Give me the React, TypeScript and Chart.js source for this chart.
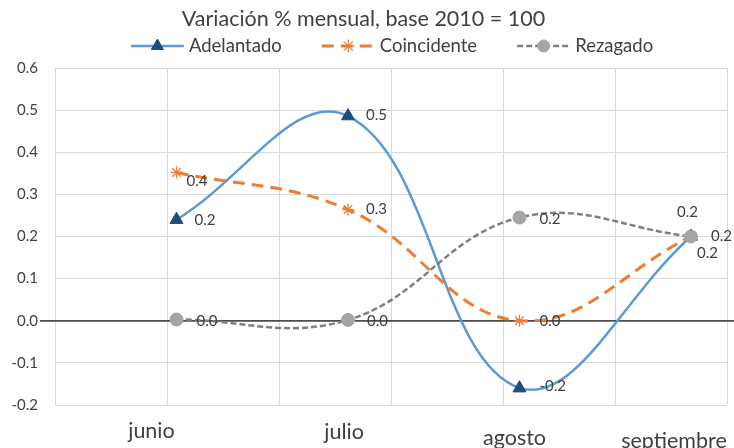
import React, { useEffect, useRef } from 'react';
import { Chart, registerables } from 'chart.js';
import { drawPoint } from 'chart.js/helpers';

Chart.register(...registerables);

// ---------- data ----------
const TITLE = 'Variación % mensual, base 2010 = 100';
const MONTHS = ['junio', 'julio', 'agosto', 'septiembre'];
const SERIES_NAMES = ['Adelantado', 'Coincidente', 'Rezagado'];
const ADELANTADO = [0.24, 0.486, -0.16, 0.2];
const COINCIDENTE = [0.352, 0.264, 0.0, 0.2];
const REZAGADO = [0.003, 0.002, 0.245, 0.2];
const Y_MIN = -0.2;
const Y_MAX = 0.6;
const Y_STEP = 0.1;

// ---------- styles ----------
const FONT = 'Lato, "Open Sans", "DejaVu Sans", sans-serif';
const TEXT = '#404040';
const GRID = '#d9d9d9';
const COLORS = {
  blue: '#5B9BD5',
  navy: '#1F4E79',
  orange: '#ED7D31',
  grayLine: '#7F7F7F',
  grayMarker: '#A5A5A5',
};
const X_MIN = -0.7085;
const X_MAX = 3.21;
const X_LABEL_NUDGE = [-0.146, -0.023, -0.029, -0.099];
const X_LABEL_LH = [16, 18, 30, 36];
// label offsets [dx, dy] per series / point
const LABEL_OFFSETS = [
  [[18, 1], [18, -1], [20, -2], [6, 17]],
  [[10, 9], [18, 0], [20, 0], [-14, -24]],
  [[20, 2], [19, 1], [20, 2], [20, 0]],
];

const zeroLinePlugin = {
  id: 'zeroLine',
  beforeDatasetsDraw(chart: any) {
    const { ctx, chartArea } = chart;
    const y0 = chart.scales.y.getPixelForValue(0);
    ctx.save();
    ctx.strokeStyle = '#4d4d4d';
    ctx.lineWidth = 1.75;
    ctx.beginPath();
    ctx.moveTo(chartArea.left - 15, y0);
    ctx.lineTo(chart.width, y0);
    ctx.stroke();
    ctx.restore();
  },
};

const dataLabelPlugin = {
  id: 'dataLabels',
  afterDatasetsDraw(chart: any) {
    const { ctx } = chart;
    ctx.save();
    ctx.font = `15px ${FONT}`;
    ctx.fillStyle = TEXT;
    ctx.textAlign = 'left';
    ctx.textBaseline = 'middle';
    chart.data.datasets.forEach((ds: any, d: number) => {
      const meta = chart.getDatasetMeta(d);
      meta.data.forEach((pt: any, i: number) => {
        const v = ds.data[i].y;
        const [dx, dy] = LABEL_OFFSETS[d][i];
        ctx.fillText(Number(v).toFixed(1), pt.x + dx, pt.y + dy);
      });
    });
    ctx.restore();
  },
};

const legendPlugin = {
  id: 'lineLegend',
  afterDraw(chart: any) {
    const { ctx, chartArea } = chart;
    ctx.save();
    ctx.font = `18.5px ${FONT}`;
    const LINE = 53;
    const GAP = 5;
    const ITEM_GAP = 40;
    const widths = SERIES_NAMES.map((n) => ctx.measureText(n).width);
    const total =
      widths.reduce((s, w) => s + LINE + GAP + w, 0) + ITEM_GAP * (widths.length - 1);
    let x = (chartArea.left + chartArea.right) / 2 + 1 - total / 2;
    const y = 46;
    chart.data.datasets.forEach((ds: any, i: number) => {
      ctx.save();
      ctx.strokeStyle = ds.borderColor;
      ctx.lineWidth = ds.borderWidth;
      ctx.setLineDash(ds.borderDash || []);
      ctx.beginPath();
      ctx.moveTo(x, y);
      ctx.lineTo(x + LINE, y);
      ctx.stroke();
      ctx.setLineDash([]);
      ctx.fillStyle = ds.pointBackgroundColor;
      ctx.strokeStyle = ds.pointBorderColor;
      ctx.lineWidth = ds.pointBorderWidth;
      drawPoint(
        ctx,
        {
          pointStyle: ds.pointStyle,
          radius: ds.legendRadius,
          rotation: 0,
          borderWidth: ds.pointBorderWidth,
        } as any,
        x + LINE / 2,
        y
      );
      ctx.restore();
      ctx.fillStyle = TEXT;
      ctx.textAlign = 'left';
      ctx.textBaseline = 'middle';
      ctx.fillText(SERIES_NAMES[i], x + LINE + GAP, y);
      x += LINE + GAP + widths[i] + ITEM_GAP;
    });
    ctx.restore();
  },
};

export default function App() {
  const canvasRef = useRef<HTMLCanvasElement | null>(null);

  useEffect(() => {
    if (!canvasRef.current) return;
    const toPoints = (arr: number[]) => arr.map((y, i) => ({ x: i, y }));
    const chart = new Chart(canvasRef.current, {
      type: 'line',
      data: {
        datasets: [
          {
            label: SERIES_NAMES[0],
            data: toPoints(ADELANTADO),
            xAxisID: 'x',
            yAxisID: 'y',
            borderColor: COLORS.blue,
            borderWidth: 2.5,
            tension: 0.4,
            fill: false,
            pointStyle: 'triangle',
            pointRadius: 7.5,
            pointBackgroundColor: COLORS.navy,
            pointBorderColor: COLORS.navy,
            pointBorderWidth: 1,
            legendRadius: 7,
            order: 3,
          } as any,
          {
            label: SERIES_NAMES[1],
            data: toPoints(COINCIDENTE),
            xAxisID: 'x',
            yAxisID: 'y',
            borderColor: COLORS.orange,
            borderWidth: 3,
            borderDash: [12, 7],
            tension: 0.4,
            fill: false,
            pointStyle: 'star',
            pointRadius: 6,
            pointBackgroundColor: COLORS.orange,
            pointBorderColor: COLORS.orange,
            pointBorderWidth: 1.2,
            legendRadius: 6.5,
            order: 2,
          } as any,
          {
            label: SERIES_NAMES[2],
            data: toPoints(REZAGADO),
            xAxisID: 'x',
            yAxisID: 'y',
            borderColor: COLORS.grayLine,
            borderWidth: 2.5,
            borderDash: [6, 3],
            tension: 0.4,
            fill: false,
            pointStyle: 'circle',
            pointRadius: 6.5,
            pointBackgroundColor: COLORS.grayMarker,
            pointBorderColor: COLORS.grayMarker,
            pointBorderWidth: 1,
            legendRadius: 6,
            order: 1,
          } as any,
        ],
      },
      options: {
        animation: false,
        responsive: true,
        maintainAspectRatio: false,
        layout: { autoPadding: false, padding: { left: 0, right: 7, top: 0, bottom: 0 } },
        plugins: {
          legend: { display: false },
          tooltip: { enabled: false },
          title: {
            display: true,
            text: TITLE,
            color: TEXT,
            font: { family: FONT, size: 21.5, weight: 'normal' },
            padding: { top: 6, bottom: 36.2 },
          },
        },
        scales: {
          x: {
            type: 'linear',
            position: 'bottom',
            min: X_MIN,
            max: X_MAX,
            grid: { display: false },
            border: { display: false },
            afterBuildTicks: (s: any) => {
              s.ticks = MONTHS.map((_, i) => ({ value: i + X_LABEL_NUDGE[i] }));
            },
            afterFit: (s: any) => {
              s.height = 43;
              s.paddingLeft = 0;
              s.paddingRight = 0;
            },
            ticks: {
              autoSkip: false,
              maxRotation: 0,
              minRotation: 0,
              padding: 10,
              color: TEXT,
              callback: (_v: any, i: number) => MONTHS[i],
              font: (c: any) => {
                const idx = c && typeof c.index === 'number' ? c.index : 0;
                return { family: FONT, size: 21.5, lineHeight: (X_LABEL_LH[idx] || 18) / 21.5 };
              },
            },
          } as any,
          xg: {
            type: 'linear',
            position: 'top',
            min: 0,
            max: 6,
            ticks: { display: false, stepSize: 1 },
            grid: { color: GRID, drawTicks: false, lineWidth: 1 },
            border: { display: false },
            afterFit: (s: any) => {
              s.height = 0;
            },
          } as any,
          y: {
            type: 'linear',
            min: Y_MIN,
            max: Y_MAX,
            ticks: {
              stepSize: Y_STEP,
              padding: 2,
              color: TEXT,
              font: { family: FONT, size: 15 },
              callback: (v: any) => Number(v).toFixed(1),
            },
            grid: { color: GRID, tickLength: 15, tickColor: 'rgba(0,0,0,0)' },
            border: { display: false },
            afterFit: (s: any) => {
              s.width = 55;
              s.paddingTop = 0;
              s.paddingBottom = 0;
            },
          } as any,
        },
      },
      plugins: [zeroLinePlugin, dataLabelPlugin, legendPlugin],
    });
    return () => chart.destroy();
  }, []);

  return (
    <div style={{ position: 'absolute', left: 0, top: 0, width: 734, height: 448 }}>
      <canvas ref={canvasRef} />
    </div>
  );
}
